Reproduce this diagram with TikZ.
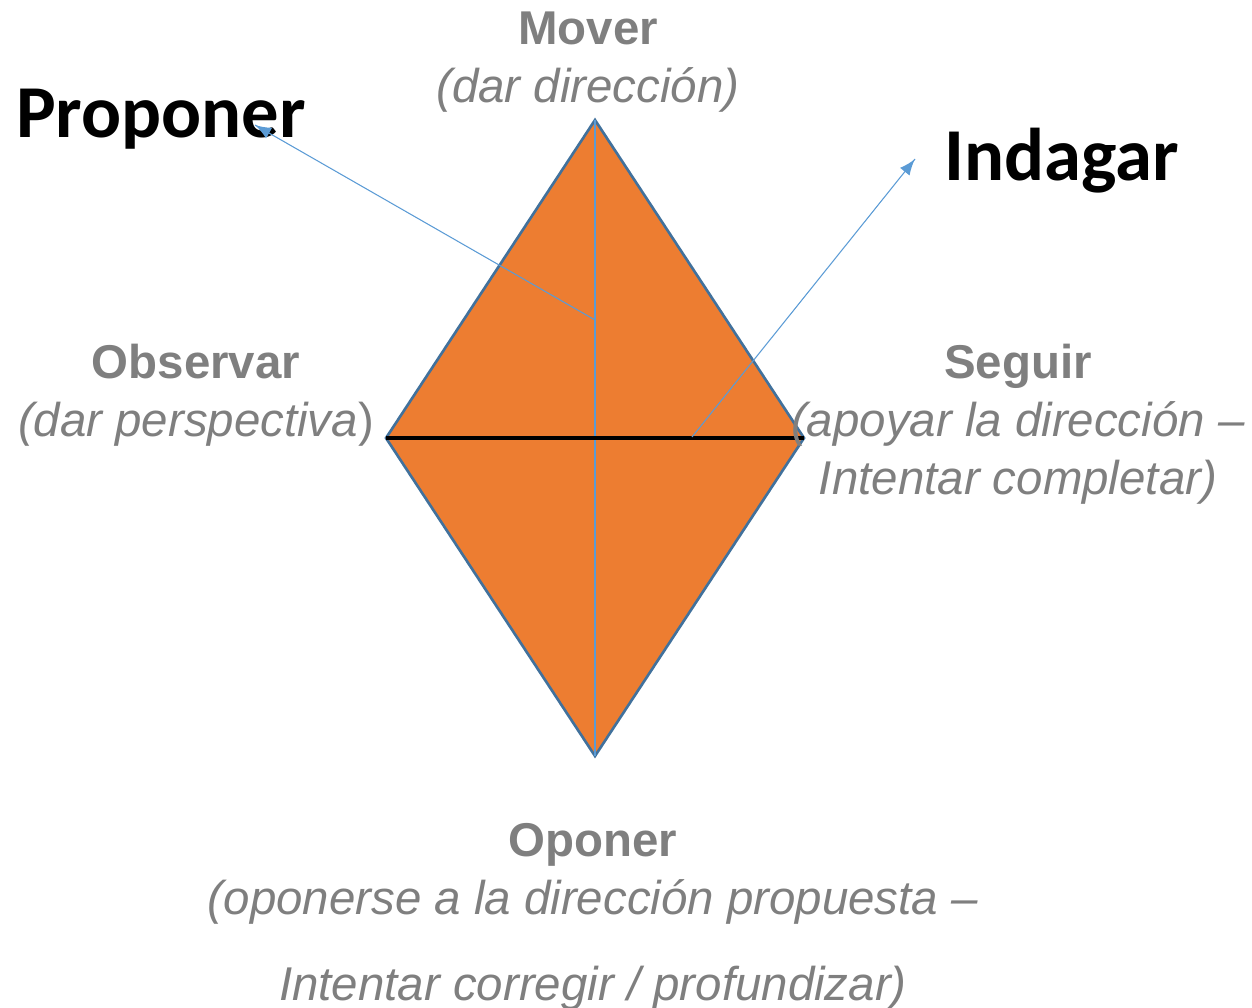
\documentclass[tikz,border=0pt]{standalone}
\usepackage{fontspec}
\setmainfont{Liberation Sans}
\newfontfamily\carlito{Carlito}
\definecolor{rombo}{HTML}{ED7D31}
\definecolor{borde}{HTML}{41719C}
\definecolor{linea}{HTML}{5B9BD5}
\definecolor{gris}{HTML}{7F7F7F}
\tikzset{->/.style = {decoration={markings, mark=at position 1 with {\arrow[scale=2]{latex}}}, postaction={decorate}}}
\tikzset{rol/.style = {text=gris, align=center, inner sep=0pt, font=\fontsize{27}{33}\selectfont}}
\tikzset{accion/.style = {text=black, inner sep=0pt, font=\carlito\bfseries\fontsize{42.5}{50}\selectfont}}
\usetikzlibrary{calc,
                 decorations.markings}

\begin{document}
\begin{tikzpicture}[x=0.02cm, y=-0.02cm]
\useasboundingbox (0,0) rectangle (1252,1008);
\coordinate (top) at (595,120);
\coordinate (left) at (386,438);
\coordinate (right) at (804,438);
\coordinate (bottom) at (595,756);
\fill[rombo] (top) -- (right) -- (bottom) -- (left) -- cycle;
\draw[borde, line width=1.5pt, line join=miter] (top) -- (right) -- (bottom) -- (left) -- cycle;
\draw[linea, line width=0.8pt] (top) -- (bottom);
\draw[black, line width=1.8pt] (left) -- (right);
\node[rol] (mover) at (588,62) {\textbf{Mover}\\\textit{(dar dirección)}};
\node[rol] (observar) at (196,395) {\textbf{Observar}\\\textit{(dar perspectiva})};
\node[rol] (seguir) at (1018,424) {\textbf{Seguir}\\\textit{(apoyar la dirección –}\\\textit{Intentar completar)}};
\node[rol] (oponer) at (593,917) {\textbf{Oponer}\\\textit{(oponerse a la dirección propuesta –}\\[16pt]\textit{Intentar corregir / profundizar)}};
\node[accion] (proponer) at (161,119) {Proponer};
\node[accion] (indagar) at (1062,161) {Indagar};
\coordinate (p0) at (595,320);
\coordinate (p1) at (255,125);
\coordinate (i0) at (692,437);
\coordinate (i1) at (915,159);
\draw [->, linea, line width=0.6pt] (p0) -- (p1);
\draw [->, linea, line width=0.6pt] (i0) -- (i1);
\end{tikzpicture}
\end{document}
